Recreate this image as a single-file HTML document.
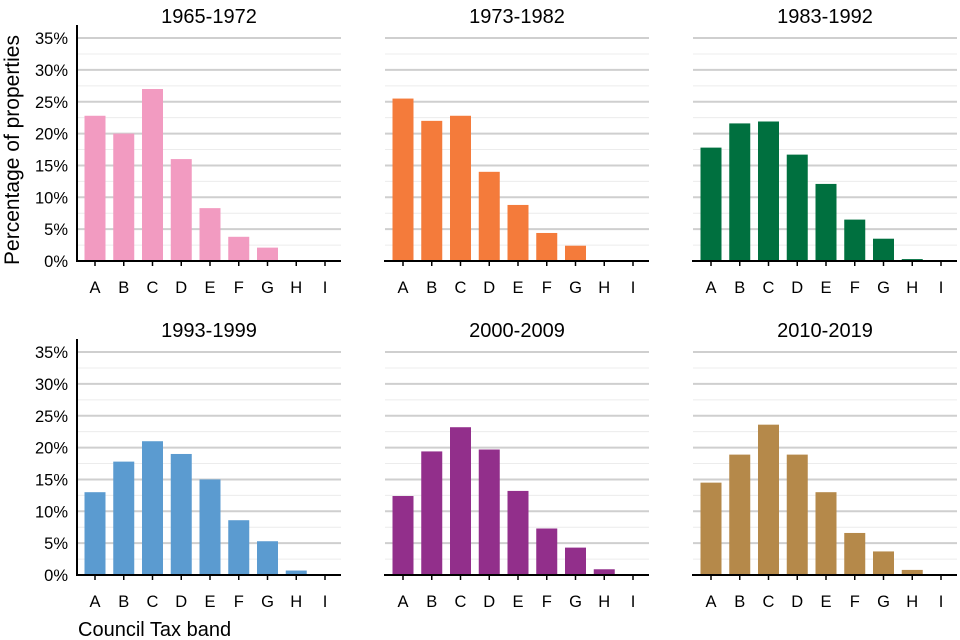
<!DOCTYPE html>
<html><head><meta charset="utf-8"><style>
html,body{margin:0;padding:0;background:#fff;}
svg{display:block;font-family:"Liberation Sans",sans-serif;}
</style></head><body>
<svg id="chart" width="960" height="640" viewBox="0 0 960 640" xmlns="http://www.w3.org/2000/svg">
<text transform="translate(19,150) rotate(-90)" text-anchor="middle" font-size="21" fill="#000">Percentage of properties</text>
<text x="78" y="636" font-size="20" fill="#000">Council Tax band</text>
</svg>
<script>
const bands = ['A','B','C','D','E','F','G','H','I'];
const periods = ['1965-1972','1973-1982','1983-1992','1993-1999','2000-2009','2010-2019'];
const colors = ['#f29bc1','#f47b3b','#00703f','#5b9bd0','#922f8b','#b5894a'];
const v1965 = [22.8,20,27,16,8.3,3.8,2.1,0,0];
const v1973 = [25.5,22,22.8,14,8.8,4.4,2.4,0,0];
const v1983 = [17.8,21.6,21.9,16.7,12.1,6.5,3.5,0.3,0];
const v1993 = [13,17.8,21,19,15,8.6,5.3,0.7,0];
const v2000 = [12.4,19.4,23.2,19.7,13.2,7.3,4.3,0.9,0];
const v2010 = [14.5,18.9,23.6,18.9,13,6.6,3.7,0.8,0];
const yTicks = [0,5,10,15,20,25,30,35];
const yTickLabels = ['0%','5%','10%','15%','20%','25%','30%','35%'];
const series = [v1965,v1973,v1983,v1993,v2000,v2010];

const NS='http://www.w3.org/2000/svg';
const svg=document.getElementById('chart');
function mk(tag,attrs,parent){const e=document.createElementNS(NS,tag);for(const k in attrs)e.setAttribute(k,attrs[k]);(parent||svg).appendChild(e);return e;}
const panelX=[77,385,693], panelY0=[261,575];
const pw=264, per5=31.85;
series.forEach((vals,p)=>{
  const col=p%3,row=Math.floor(p/3);
  const x0=panelX[col], y0=panelY0[row];
  const yS=v=>y0-v/5*per5;
  const xS=i=>x0+18+i*28.75;
  const g=mk('g',{});
  
  
  for(let v=2.5;v<=35;v+=2.5){
    const major=Math.abs(v%5)<0.01;
    const ln=mk('line',{x1:x0,x2:x0+pw,y1:yS(v),y2:yS(v),stroke:major?'#cfcfcf':'#ececec','stroke-width':major?2:1},g);
    
    
  }
  vals.forEach((v,i)=>{
    const r=mk('rect',{x:xS(i)-10.5,width:21,y:yS(v),height:Math.max(0,y0-yS(v)),fill:colors[p]},g);
    
    
  });
  const ax=mk('line',{x1:x0-1,x2:x0+pw,y1:y0,y2:y0,stroke:'#000','stroke-width':2},g);
  
  
  bands.forEach((b,i)=>{
    mk('line',{x1:xS(i),x2:xS(i),y1:y0,y2:y0+5,stroke:'#000','stroke-width':1.5},g);
    const t=mk('text',{x:xS(i),y:y0+32,'text-anchor':'middle','font-size':16.5,fill:'#000'},g);
    t.textContent=b;
    
    
  });
  const title=mk('text',{x:x0+132,y:y0-238,'text-anchor':'middle','font-size':20,fill:'#000'},g);
  title.textContent=periods[p];
  
  
  if(col===0){
    const ya=mk('line',{x1:x0,x2:x0,y1:y0-236,y2:y0+1,stroke:'#000','stroke-width':2},g);
    
    
    yTicks.forEach((v,i)=>{
      const t=mk('text',{x:x0-9,y:yS(v)+6,'text-anchor':'end','font-size':16.5,fill:'#000'},g);
      t.textContent=yTickLabels[i];
      
      
    });
  }
});
</script>
</body></html>
